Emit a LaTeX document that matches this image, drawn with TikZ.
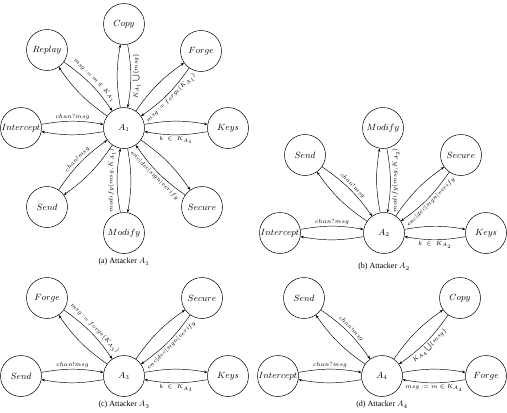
\documentclass[tikz,border=0pt]{standalone}
\usepackage{exscale}
\usepackage{fontspec}
\setmainfont{Liberation Serif}
\usetikzlibrary{arrows.meta}
% #1 outer node, #2 attacker node, #3 label, #4 label options, label on arc #1 -> #2
\newcommand\pairedge[4]{%
  \draw[arr] (#1) to[bend left=10] node[lbl,#4]{#3} (#2);
  \draw[arr] (#2) to[bend left=10] (#1);}
\begin{document}
\begin{tikzpicture}[x=1pt,y=1pt,
  st/.style={circle,draw,line width=0.5pt,minimum size=41pt,inner sep=0pt,font=\fontsize{9}{10}\selectfont},
  arr/.style={-{Stealth[length=3.5pt,width=2.6pt]},line width=0.45pt},
  lbl/.style={inner sep=1.5pt,font=\fontsize{6.5}{7}\selectfont},
  up/.style={sloped,above},
  dn/.style={sloped,below},
  vr/.style={rotate=90,anchor=north},
  vl/.style={rotate=90,anchor=south},
  captxt/.style={font=\fontsize{8}{9}\selectfont}]
\useasboundingbox (0,0) rectangle (507,-413);
% (a)
\node[st] (a0) at (124,-128) {$A_1$};
\node[st] (aC) at (124,-24) {$Copy$};
\node[st] (aR) at (47,-50) {$Replay$};
\node[st] (aF) at (201,-51) {$Forge$};
\node[st] (aI) at (21,-128) {$Intercept$};
\node[st] (aK) at (228,-128) {$Keys$};
\node[st] (aS) at (47,-207) {$Send$};
\node[st] (aM) at (124,-233) {$Modify$};
\node[st] (aE) at (202,-207) {$Secure$};
\node[captxt] (acap) at (124,-262) {(a) Attacker $A_1$};
\pairedge{aR}{a0}{$msg := m \in K_{A_1}$}{up}
\pairedge{aC}{a0}{$K_{A_1}\bigcup\{msg\}$}{vr}
\pairedge{aF}{a0}{$msg := forge(K_{A_1})$}{dn}
\pairedge{aI}{a0}{$chan?msg$}{up}
\pairedge{aK}{a0}{$k \;\in\; K_{A_1}$}{dn}
\pairedge{aS}{a0}{$chan!msg$}{up}
\pairedge{aM}{a0}{$modify(msg,K_{A_1})$}{vl}
\pairedge{aE}{a0}{$enc|dec|sign|verify$}{dn}
% (b)
\node[st] (b0) at (384,-233) {$A_2$};
\node[st] (bI) at (280,-233) {$Intercept$};
\node[st] (bK) at (486,-233) {$Keys$};
\node[st] (bS) at (305,-155) {$Send$};
\node[st] (bM) at (383,-128) {$Modify$};
\node[st] (bE) at (461,-155) {$Secure$};
\node[captxt] (bcap) at (384,-267) {(b) Attacker $A_2$};
\pairedge{bI}{b0}{$chan?msg$}{up}
\pairedge{bK}{b0}{$k \;\in\; K_{A_2}$}{dn}
\pairedge{bS}{b0}{$chan!msg$}{up}
\pairedge{bM}{b0}{$modify(msg,K_{A_2})$}{vr}
\pairedge{bE}{b0}{$enc|dec|sign|verify$}{dn}
% (c)
\node[st] (c0) at (124,-376) {$A_3$};
\node[st] (cF) at (47,-298) {$Forge$};
\node[st] (cE) at (202,-298) {$Secure$};
\node[st] (cS) at (21,-376) {$Send$};
\node[st] (cK) at (228,-376) {$Keys$};
\node[captxt] (ccap) at (124,-405) {(c) Attacker $A_3$};
\pairedge{cF}{c0}{$msg := forge(K_{A_3})$}{up}
\pairedge{cE}{c0}{$enc|dec|sign|verify$}{dn}
\pairedge{cS}{c0}{$chan!msg$}{up}
\pairedge{cK}{c0}{$k \;\in\; K_{A_3}$}{dn}
% (d)
\node[st] (d0) at (382,-376) {$A_4$};
\node[st] (dS) at (304,-298) {$Send$};
\node[st] (dC) at (460,-298) {$Copy$};
\node[st] (dI) at (278,-376) {$Intercept$};
\node[st] (dF) at (486,-376) {$Forge$};
\node[captxt] (dcap) at (382,-405) {(d) Attacker $A_4$};
\pairedge{dS}{d0}{$chan!msg$}{up}
\pairedge{dC}{d0}{$K_{A_4}\bigcup\{msg\}$}{dn}
\pairedge{dI}{d0}{$chan?msg$}{up}
\pairedge{dF}{d0}{$msg := m \in K_{A_4}$}{dn}
\end{tikzpicture}
\end{document}
